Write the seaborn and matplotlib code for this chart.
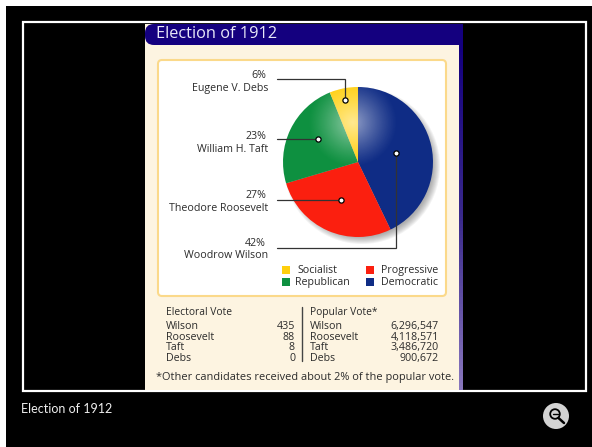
import numpy as np
import matplotlib.pyplot as plt
import seaborn as sns
from matplotlib.colors import LinearSegmentedColormap
from matplotlib.patches import Circle, FancyBboxPatch, Rectangle

candidates = ['Woodrow Wilson', 'Theodore Roosevelt', 'William H. Taft', 'Eugene V. Debs']
shares = [42, 27, 23, 6]
parties = ['Democratic', 'Progressive', 'Republican', 'Socialist']
colors = ['#0f2c85', '#fb1f0f', '#0e9040', '#ffcf0d']
short_names = ['Wilson', 'Roosevelt', 'Taft', 'Debs']
electoral = ['435', '88', '8', '0']
popular = ['6,296,547', '4,118,571', '3,486,720', '900,672']

sns.set_theme(style='white')
plt.rcParams['font.family'] = ['Open Sans', 'DejaVu Sans']
text_col = '#2b2b2b'
navy = '#14007f'
fs = 7.7

fig = plt.figure(figsize=(5.92, 4.47), dpi=100, facecolor='black')
ax = fig.add_axes([0, 0, 1, 1])
ax.set_xlim(0, 592)
ax.set_ylim(447, 0)
ax.axis('off')

# frame and panels
ax.add_patch(Rectangle((0, 0), 592, 5.5, color='white', lw=0))
ax.add_patch(Rectangle((0, 0), 6, 447, color='white', lw=0))
ax.add_patch(Rectangle((23, 22), 563, 369, fc='black', ec='white', lw=1.6))
ax.add_patch(Rectangle((145, 24), 314, 366, color='#fdf4e1', lw=0))

# side strip fades from navy to lavender
strip = LinearSegmentedColormap.from_list('strip', [navy, '#3a2a8c', '#8a78bd'])
ax.imshow(np.linspace(0, 1, 100).reshape(-1, 1), extent=[459, 463, 390, 45], cmap=strip, aspect='auto', zorder=1)
ax.set_xlim(0, 592)
ax.set_ylim(447, 0)

# title bar, rounded on the left only
ax.add_patch(FancyBboxPatch((145, 24), 40, 21, boxstyle='round,pad=0,rounding_size=9', fc=navy, lw=0, zorder=2))
ax.add_patch(Rectangle((160, 24), 303, 21, color=navy, lw=0, zorder=2))
ax.text(156, 38, 'Election of 1912', color='#e8e8f8', fontsize=11.8, va='baseline', ha='left', zorder=3)
ax.add_patch(FancyBboxPatch((158, 60), 288, 236, boxstyle='round,pad=0,rounding_size=4',
                            fc='white', ec='#fbd98a', lw=1.5, zorder=2))

# pie with soft shadow
cx, cy, r = 358, 162, 75
for i in range(8):
    ax.add_patch(Circle((cx + 4, cy + 4), r + 3 - i, color='#505050', alpha=0.07, lw=0, zorder=3))

pie_ax = fig.add_axes([(cx - r) / 592, 1 - (cy + r) / 447, 2 * r / 592, 2 * r / 447])
wedges, _ = pie_ax.pie(shares, colors=colors, startangle=90, counterclock=False, radius=1,
                       wedgeprops={'linewidth': 0})

# glossy highlight
yy, xx = np.mgrid[-1:1:300j, -1:1:300j]
glow = np.clip(1 - np.hypot(xx + 0.07, yy - 0.53) / 0.6, 0, 1) ** 1.2 * 0.55
rgba = np.ones((300, 300, 4))
rgba[..., 3] = glow
img = pie_ax.imshow(rgba, extent=[-1, 1, -1, 1], origin='lower', zorder=5)
img.set_clip_path(Circle((0, 0), 1, transform=pie_ax.transData))
pie_ax.set_xlim(-1, 1)
pie_ax.set_ylim(-1, 1)
pie_ax.axis('off')

# overlay axes for leaders, so they sit on top of the pie
top = fig.add_axes([0, 0, 1, 1])
top.set_xlim(0, 592)
top.set_ylim(447, 0)
top.axis('off')
top.patch.set_alpha(0)

leaders = [
    ([277, 396, 396], [248, 248, 153], 396, 153),
    ([277, 341], [200, 200], 341, 200),
    ([277, 318], [139, 139], 318, 139),
    ([277, 345, 345], [79, 79, 100], 345, 100),
]
for lx, ly, dx, dy in leaders:
    top.plot(lx, ly, color='#333333', lw=0.9, solid_joinstyle='miter')
    top.scatter([dx], [dy], s=14, fc='white', ec='black', lw=0.9, zorder=5)

label_y = [(246, 258), (198, 211), (139, 152), (78, 91)]
for name, share, (y1, y2) in zip(candidates, shares, label_y):
    top.text(266, y1, f'{share}%', ha='right', va='baseline', fontsize=fs, color=text_col)
    top.text(268, y2, name, ha='right', va='baseline', fontsize=fs, color=text_col)

# legend
legend_pos = [(366, 282), (366, 270), (282, 282), (282, 270)]
text_x = {'Democratic': 381, 'Progressive': 381, 'Republican': 295, 'Socialist': 297}
for party, col, (lx, ly) in zip(parties, colors, legend_pos):
    top.add_patch(Rectangle((lx, ly - 4), 8, 8, color=col, lw=0))
    top.text(text_x[party], ly + 3, party, va='baseline', fontsize=fs, color=text_col)

# vote tables
top.text(166, 315, 'Electoral Vote', fontsize=7.4, va='baseline', color=text_col)
top.text(310, 315, 'Popular Vote*', fontsize=7.4, va='baseline', color=text_col)
rows_y = [329, 340, 350, 361]
for name, ev, pv, y in zip(short_names, electoral, popular, rows_y):
    top.text(166, y, name, fontsize=fs, va='baseline', color=text_col)
    top.text(295, y, ev, fontsize=fs, va='baseline', ha='right', color=text_col)
    top.text(310, y, name, fontsize=fs, va='baseline', color=text_col)
    top.text(439, y, pv, fontsize=fs, va='baseline', ha='right', color=text_col)
top.plot([302, 302], [307, 361], color='#444444', lw=1)
top.text(156, 380, '*Other candidates received about 2% of the popular vote.', fontsize=7.9,
         va='baseline', color=text_col)

# caption and zoom button
top.text(21, 409, 'Election of 1912', color='#eeeeee', fontsize=9, family='Lato', va='center')
top.add_patch(Circle((556, 416), 13, color='#d3d3d3', lw=0))
top.add_patch(Circle((555, 414), 4.8, fc='none', ec='black', lw=1.3))
top.plot([552.5, 557.5], [414, 414], color='black', lw=1)
top.plot([558.5, 564], [418, 423], color='black', lw=1.8)

fig.savefig('out.png', dpi=100, facecolor='black')
